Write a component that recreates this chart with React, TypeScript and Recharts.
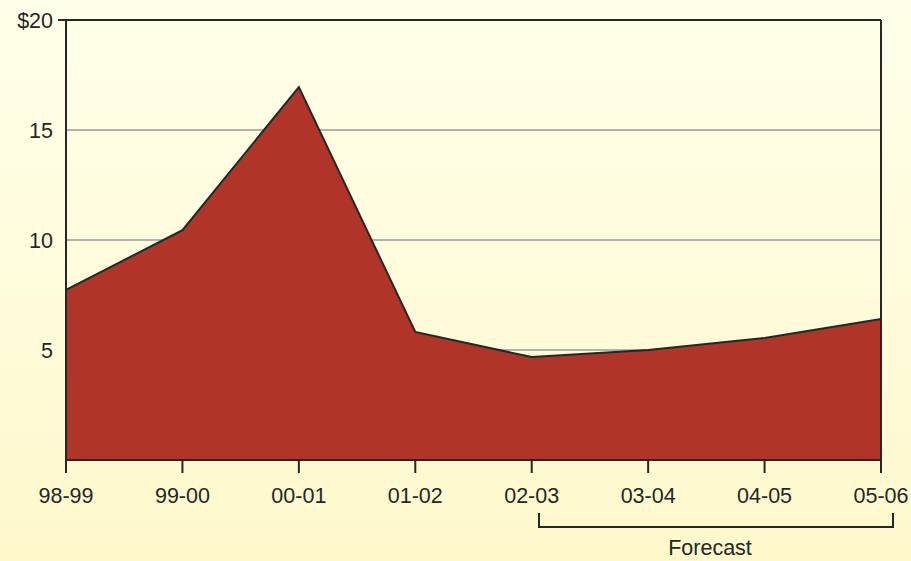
import React from 'react'
import { AreaChart, Area, XAxis, YAxis, CartesianGrid, ReferenceLine } from 'recharts'

const years = ['98-99', '99-00', '00-01', '01-02', '02-03', '03-04', '04-05', '05-06']
const amounts = [7.73, 10.45, 16.95, 5.82, 4.68, 5.0, 5.55, 6.41]
const yTicks = [0, 5, 10, 15, 20]

const data = years.map((year, i) => ({ year, amount: amounts[i] }))

const ink = '#262626'
const font = '"Liberation Sans", Arial, sans-serif'
const fs = 21.5

function YTick(props: any) {
  const { y, payload } = props
  const v = payload.value
  if (v === 0) return null
  return (
    <g>
      {v === 20 && <line x1={58} x2={66} y1={y} y2={y} stroke={ink} strokeWidth={2} />}
      <text x={53} y={y} dy="0.355em" textAnchor="end" fill={ink} fontSize={fs} fontFamily={font}>
        {v === 20 ? '$20' : v}
      </text>
    </g>
  )
}

export default function App() {
  return (
    <div
      style={{
        position: 'absolute',
        left: 0,
        top: 0,
        width: 911,
        height: 561,
        background: 'linear-gradient(to bottom, #ffffe9 0%, #fffbd9 60%, #fff8cb 100%)',
      }}
    >
      <AreaChart width={911} height={561} data={data} margin={{ top: 20, right: 30, left: 0, bottom: 0 }}>
        <CartesianGrid horizontal vertical={false} stroke="#9a9a9a" strokeWidth={1.5} />
        <XAxis
          dataKey="year"
          height={101}
          axisLine={{ stroke: ink, strokeWidth: 2 }}
          tickLine={{ stroke: ink, strokeWidth: 2 }}
          tickSize={13}
          tickMargin={15}
          tick={{ fill: ink, fontSize: fs, fontFamily: font }}
          interval={0}
          padding={{ left: 0, right: 0 }}
        />
        <YAxis
          width={66}
          domain={[0, 20]}
          ticks={yTicks}
          axisLine={{ stroke: ink, strokeWidth: 2 }}
          tickLine={false}
          tick={<YTick />}
          interval={0}
        />
        <Area
          type="linear"
          dataKey="amount"
          stroke={ink}
          strokeWidth={2}
          fill="#b03427"
          fillOpacity={1}
          isAnimationActive={false}
        />
        <ReferenceLine y={20} stroke={ink} strokeWidth={2} />
        <ReferenceLine x="05-06" stroke={ink} strokeWidth={2} />
      </AreaChart>
      <svg
        width={911}
        height={561}
        style={{ position: 'absolute', left: 0, top: 0, pointerEvents: 'none' }}
      >
        <polyline
          points="539,513 539,527 893,527 893,513"
          fill="none"
          stroke={ink}
          strokeWidth={2}
        />
        <text x={710} y={555} textAnchor="middle" fill={ink} fontSize={fs} fontFamily={font}>
          Forecast
        </text>
      </svg>
    </div>
  )
}
